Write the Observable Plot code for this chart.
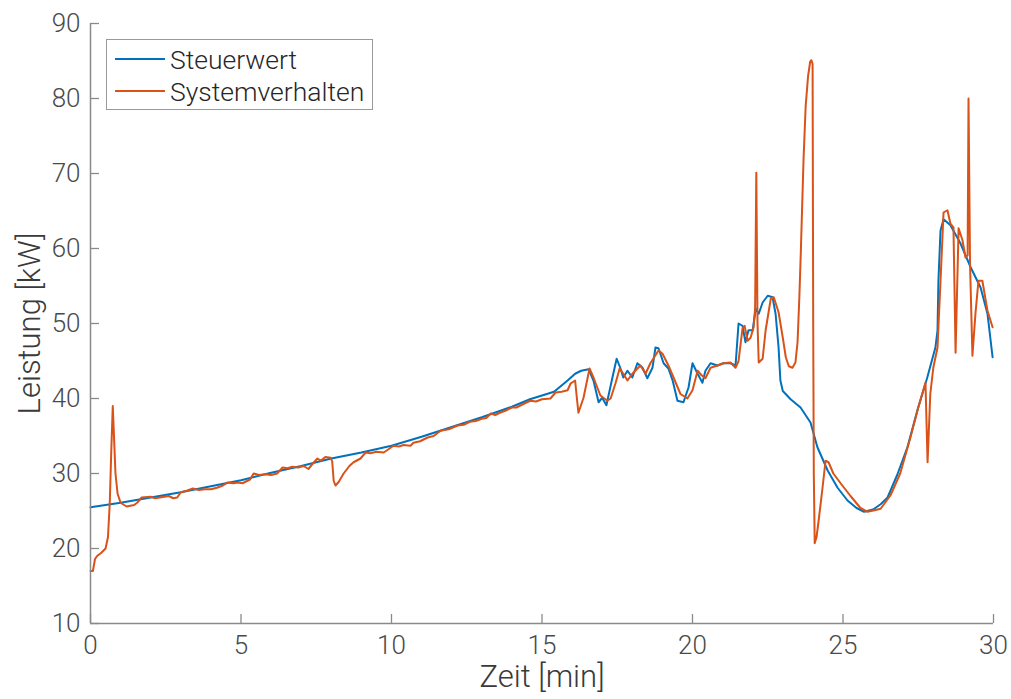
<!DOCTYPE html>
<html>
<head>
<meta charset="utf-8">
<script src="https://cdn.jsdelivr.net/npm/d3@7"></script>
<script src="https://cdn.jsdelivr.net/npm/@observablehq/plot@0.6"></script>
<style>
  html, body { margin: 0; padding: 0; background: #fff; }
  #chart { position: relative; width: 1011px; height: 699px; }
  #legend {
    position: absolute; left: 106px; top: 39px; width: 265px; height: 69px;
    border: 1px solid #9a9a9a; background: #fff;
    font-family: Roboto, sans-serif; font-weight: 300; font-size: 26.5px; color: #262626;
  }
  #legend .row { position: absolute; left: 8px; height: 30px; display: flex; align-items: center; }
  #legend .swatch { width: 50px; height: 2px; margin-right: 5px; }
</style>
</head>
<body>
<div id="chart"></div>
<script>
// Time in minutes, power in kW
const steuerwert = [
  [0,25.5],[1,26.1],[2,26.8],[3,27.5],[4,28.3],[5,29.1],[6,30.1],[7,31.0],[8,32.0],[9,32.8],
  [10,33.7],[11,34.9],[12,36.2],[13,37.5],[14,38.9],[14.6,39.9],[15,40.4],[15.4,40.9],[15.85,42.4],
  [16.1,43.3],[16.3,43.7],[16.55,43.9],[16.71,42.4],[16.88,39.5],[17.0,40.1],[17.14,39.1],[17.34,42.8],
  [17.48,45.3],[17.6,44.1],[17.7,42.8],[17.84,43.7],[18.0,42.8],[18.17,44.7],[18.34,44.1],[18.5,42.7],
  [18.67,44.1],[18.77,46.8],[18.87,46.7],[19.04,44.7],[19.2,44.0],[19.34,42.4],[19.5,39.7],[19.7,39.5],
  [19.87,41.5],[20.0,44.7],[20.17,43.3],[20.33,42.1],[20.43,43.7],[20.6,44.7],[20.83,44.4],[21.03,44.7],
  [21.26,44.7],[21.43,44.4],[21.53,50.0],[21.66,49.7],[21.76,47.5],[21.86,49.1],[22.0,49.1],[22.1,52.0],
  [22.2,51.3],[22.33,52.8],[22.5,53.7],[22.66,53.5],[22.76,51.3],[22.86,46.8],[22.92,42.4],[23.0,41.0],
  [23.26,39.9],[23.59,38.8],[23.92,36.8],[24.15,33.5],[24.49,30.4],[24.82,28.1],[25.15,26.4],[25.45,25.4],
  [25.7,24.9],[26.0,25.2],[26.25,25.9],[26.48,26.8],[26.8,29.8],[27.14,33.5],[27.47,38.4],[27.8,42.8],
  [28.07,46.8],[28.14,49.1],[28.17,55.7],[28.24,62.4],[28.34,63.9],[28.57,63.1],[28.9,60.7],[29.24,57.5],
  [29.57,54.8],[29.8,51.3],[29.97,45.5]
];

const systemverhalten = [
  [0,17.0],[0.08,17.0],[0.15,18.6],[0.22,19.0],[0.35,19.4],[0.5,20.0],[0.58,21.5],[0.64,26],[0.69,33],
  [0.74,39.0],[0.78,35],[0.83,30],[0.9,27.3],[1.0,26.1],[1.2,25.6],[1.45,25.8],[1.55,26.1],[1.7,26.8],
  [2.0,26.9],[2.15,26.7],[2.3,26.8],[2.6,27.0],[2.75,26.7],[2.88,26.8],[3.0,27.5],[3.2,27.7],[3.4,28.0],
  [3.6,27.8],[3.8,27.9],[4.0,27.9],[4.2,28.1],[4.4,28.4],[4.55,28.8],[4.75,28.7],[4.9,28.8],[5.05,28.7],
  [5.2,29.0],[5.3,29.2],[5.42,30.0],[5.6,29.8],[5.8,29.9],[6.0,29.8],[6.2,30.0],[6.38,30.8],[6.55,30.7],
  [6.7,30.9],[6.9,30.8],[7.08,31.0],[7.24,30.6],[7.4,31.4],[7.54,32.0],[7.65,31.7],[7.8,32.2],[7.98,32.1],
  [8.03,31.6],[8.08,29.0],[8.14,28.4],[8.25,28.9],[8.41,30.0],[8.6,31.0],[8.74,31.5],[8.97,32.0],[9.14,32.8],
  [9.3,32.7],[9.5,32.9],[9.74,32.8],[10.07,33.7],[10.25,33.6],[10.4,33.8],[10.63,33.7],[10.73,34.1],
  [10.95,34.3],[11.2,34.8],[11.4,35.0],[11.63,35.7],[11.9,35.9],[12.2,36.4],[12.4,36.5],[12.6,36.9],
  [12.8,37.0],[13.0,37.3],[13.15,37.4],[13.3,38.0],[13.45,37.8],[13.6,38.1],[13.8,38.4],[14.0,38.8],
  [14.15,38.8],[14.3,39.1],[14.5,39.5],[14.62,39.7],[14.8,39.6],[15.0,39.9],[15.28,40.0],[15.45,40.8],
  [15.65,40.9],[15.85,41.1],[15.95,42.0],[16.1,42.4],[16.16,40.0],[16.21,38.1],[16.38,40.1],[16.58,44.0],
  [16.71,42.8],[16.94,40.4],[17.17,39.7],[17.28,40.0],[17.44,42.0],[17.58,44.0],[17.7,43.3],[17.84,42.4],
  [18.0,43.3],[18.27,44.4],[18.44,43.3],[18.6,44.7],[18.87,46.4],[19.0,46.0],[19.2,44.4],[19.37,42.8],
  [19.6,40.6],[19.83,40.0],[20.0,41.1],[20.17,43.7],[20.3,43.1],[20.43,42.7],[20.6,44.1],[20.83,44.4],
  [21.03,44.7],[21.26,44.8],[21.43,44.1],[21.53,45.0],[21.66,49.3],[21.73,49.7],[21.83,47.7],[21.93,48.1],
  [22.03,49.5],[22.08,52.0],[22.12,70.1],[22.16,50.0],[22.2,44.8],[22.33,45.3],[22.43,49.1],[22.6,53.3],
  [22.7,53.5],[22.86,51.5],[23.0,48.1],[23.1,45.5],[23.2,44.3],[23.32,44.1],[23.42,44.8],[23.49,47.5],
  [23.55,53.5],[23.6,59.7],[23.69,72.0],[23.76,79.0],[23.84,83.0],[23.91,84.9],[23.95,85.1],[23.99,84.6],
  [24.01,50.0],[24.03,30.0],[24.06,20.7],[24.12,21.5],[24.19,23.7],[24.32,28.1],[24.42,31.7],[24.52,31.5],
  [24.68,30.0],[24.92,28.7],[25.25,27.0],[25.58,25.4],[25.81,24.9],[26.05,25.1],[26.25,25.3],[26.58,27.1],
  [26.9,30.0],[27.24,34.8],[27.5,38.8],[27.74,42.1],[27.81,31.5],[27.9,40.6],[28.0,44.1],[28.14,46.8],
  [28.24,55.7],[28.34,64.8],[28.47,65.1],[28.57,63.3],[28.67,62.8],[28.74,46.1],[28.84,62.7],[28.97,61.1],
  [29.07,58.8],[29.14,59.1],[29.17,80.0],[29.22,58.0],[29.3,45.7],[29.4,51.3],[29.5,55.7],[29.63,55.7],
  [29.8,51.7],[29.97,49.5]
];

const xTicks = [0, 5, 10, 15, 20, 25, 30];
const yTicks = [10, 20, 30, 40, 50, 60, 70, 80, 90];
const seriesNames = ["Steuerwert", "Systemverhalten"];
const seriesColors = ["#0072BD", "#D95319"];

const axisColor = "#8a8a8a";
const textColor = "#4a4a4a";

const chart = Plot.plot({
  width: 1011,
  height: 699,
  marginLeft: 90,
  marginRight: 18,
  marginTop: 23,
  marginBottom: 76,
  style: { fontFamily: "Roboto, sans-serif", fontWeight: 300, background: "#fff", overflow: "visible" },
  x: { domain: [0, 30], axis: null },
  y: { domain: [10, 90], axis: null },
  marks: [
    Plot.line(steuerwert, { x: d => d[0], y: d => d[1], stroke: seriesColors[0], strokeWidth: 2 }),
    Plot.line(systemverhalten, { x: d => d[0], y: d => d[1], stroke: seriesColors[1], strokeWidth: 2 }),
    Plot.ruleX([0], { stroke: axisColor, strokeWidth: 1.5 }),
    Plot.ruleY([10], { stroke: axisColor, strokeWidth: 1.5 }),
    // inward-pointing ticks; labels placed outside the frame
    Plot.axisX(xTicks, { tickSize: -9, tickPadding: 21, fontSize: 26, stroke: axisColor, fill: textColor, strokeWidth: 1.3, label: null }),
    Plot.axisY(yTicks, { tickSize: -9, tickPadding: 19, fontSize: 26, stroke: axisColor, fill: textColor, strokeWidth: 1.3, label: null }),
    Plot.text(["Zeit [min]"], { frameAnchor: "bottom", dy: 63, fontSize: 31, fill: "#3a3a3a" }),
    Plot.text(["Leistung [kW]"], { frameAnchor: "left", textAnchor: "middle", rotate: -90, dx: -60, fontSize: 31, fill: "#3a3a3a" })
  ]
});

const container = document.getElementById("chart");
container.appendChild(chart);

// Legend box inside the plot area
const legend = document.createElement("div");
legend.id = "legend";
seriesNames.forEach((name, i) => {
  const row = document.createElement("div");
  row.className = "row";
  row.style.top = (i === 0 ? 4 : 36) + "px";
  const sw = document.createElement("div");
  sw.className = "swatch";
  sw.style.background = seriesColors[i];
  const label = document.createElement("span");
  label.textContent = name;
  row.appendChild(sw);
  row.appendChild(label);
  legend.appendChild(row);
});
container.appendChild(legend);
</script>
</body>
</html>
